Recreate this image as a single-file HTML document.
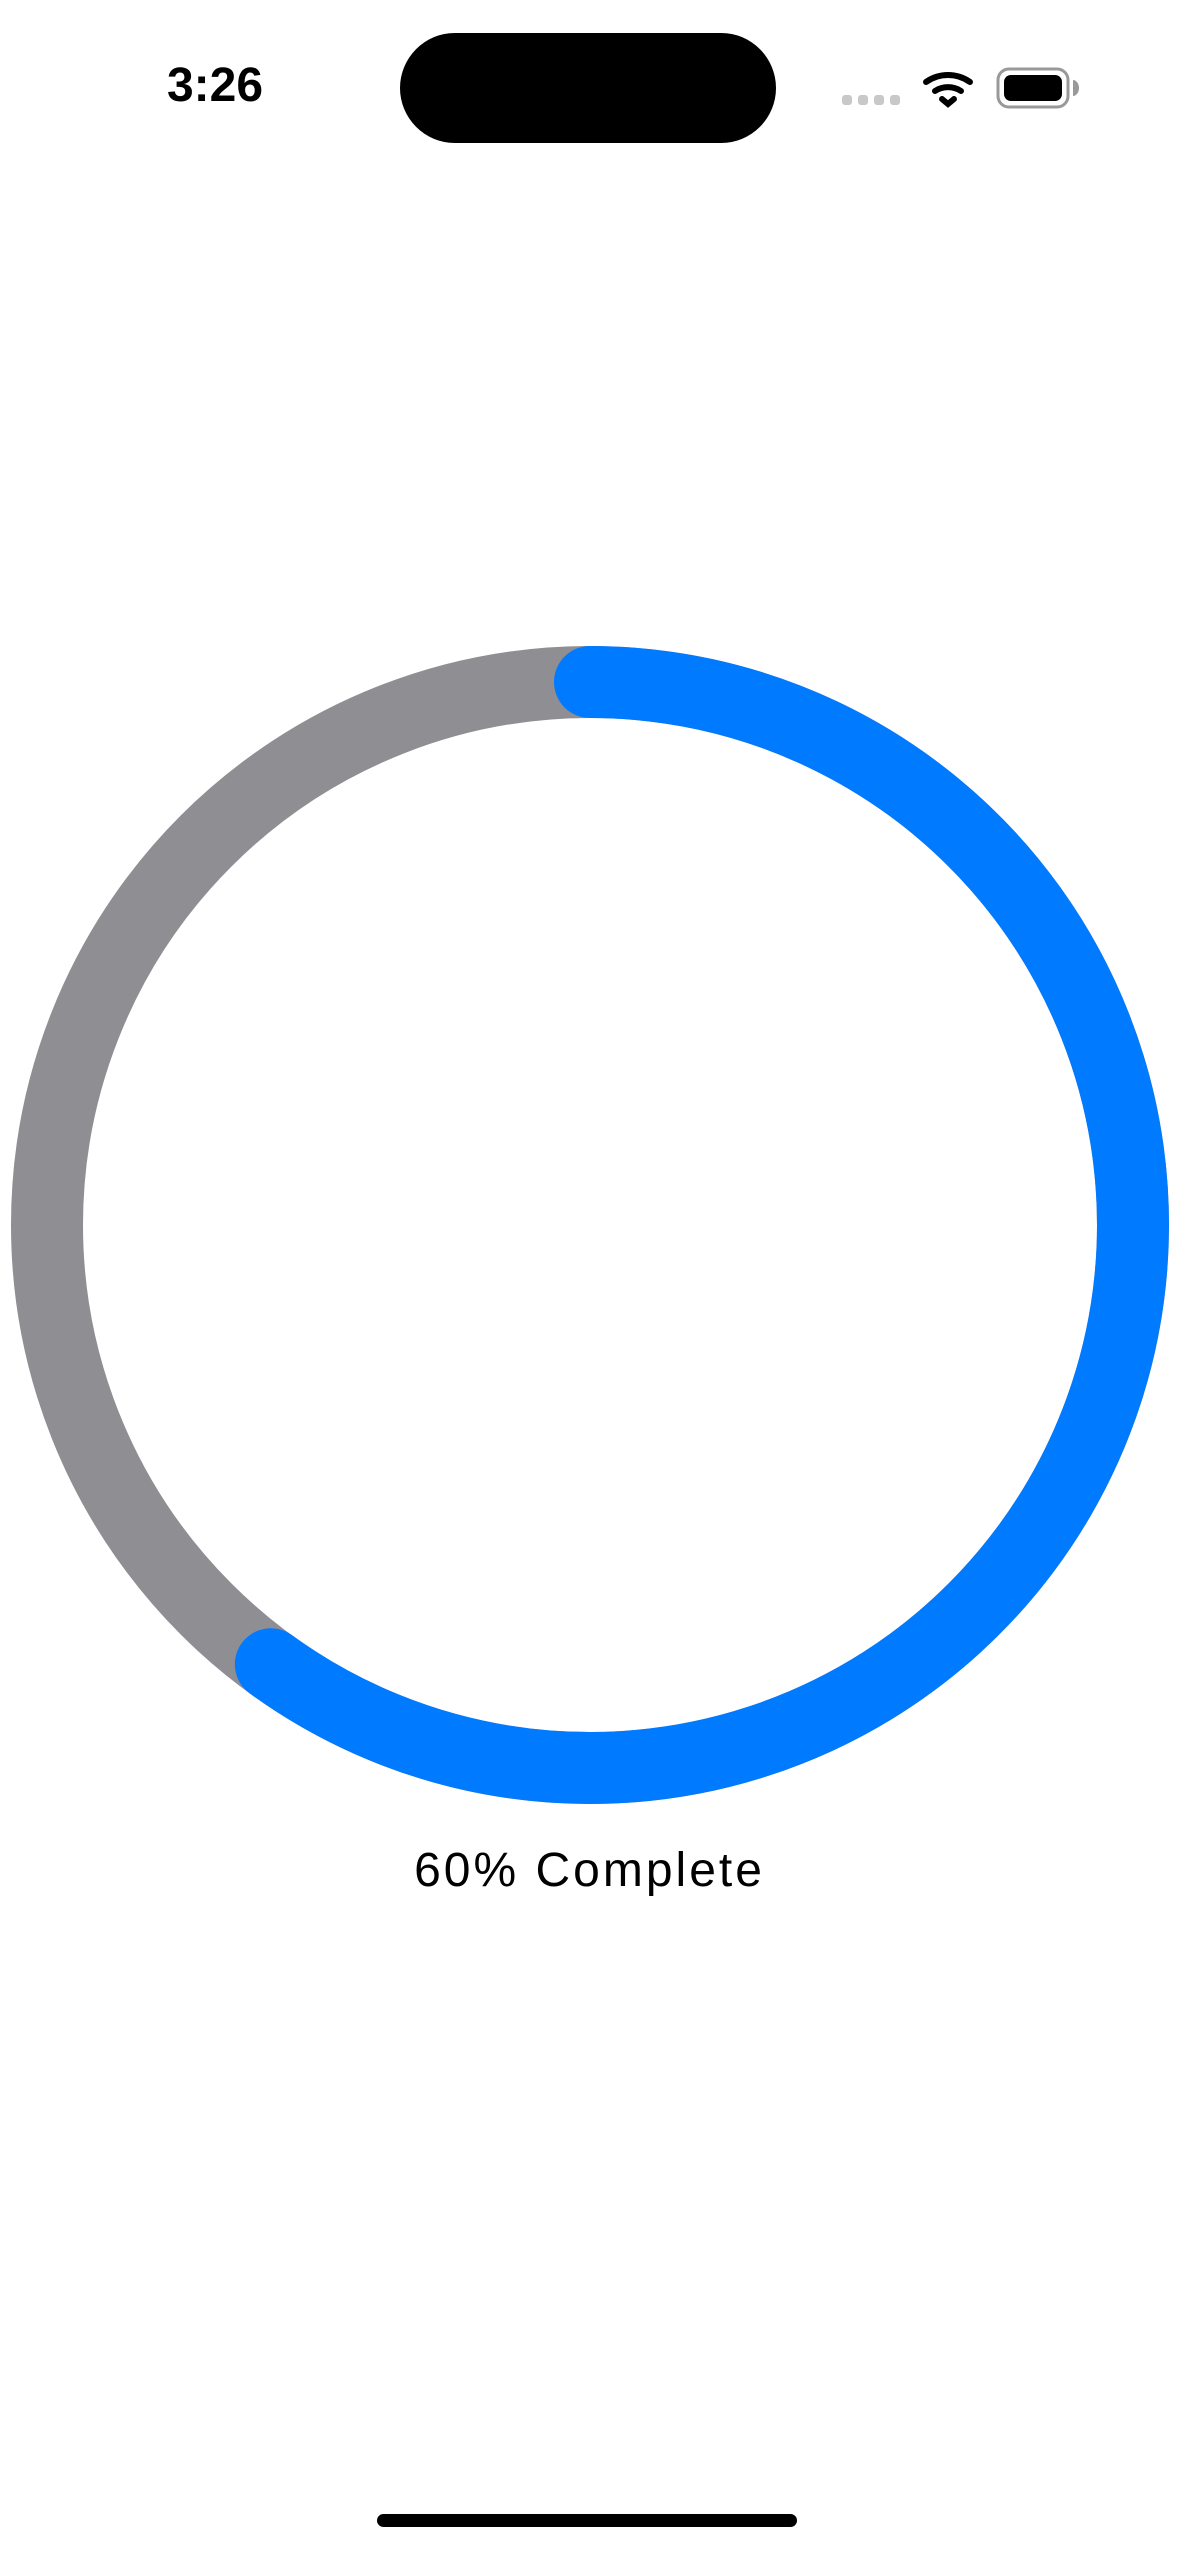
<!DOCTYPE html>
<html><head><meta charset="utf-8">
<style>
html,body{margin:0;padding:0;background:#fff;}
body{width:1179px;height:2556px;position:relative;overflow:hidden;font-family:"Liberation Sans",sans-serif;}
#time{position:absolute;left:140px;top:58px;width:150px;text-align:center;font-weight:bold;font-size:48px;color:#000;}
#island{position:absolute;left:400px;top:33px;width:376px;height:110px;border-radius:55px;background:#000;}
#label{position:absolute;left:0;width:1179px;top:1843px;text-align:center;font-size:48px;letter-spacing:3px;color:#000;}
#home{position:absolute;left:377px;top:2514px;width:420px;height:13px;border-radius:7px;background:#000;}
</style></head><body>
<div id="time">3:26</div>
<div id="island"></div>
<svg width="1179" height="200" style="position:absolute;left:0;top:0">
  <g fill="#c8c8c8">
    <rect x="842" y="95" width="10" height="10" rx="3"/><rect x="858" y="95" width="10" height="10" rx="3"/>
    <rect x="874" y="95" width="10" height="10" rx="3"/><rect x="890" y="95" width="10" height="10" rx="3"/>
  </g>
  <g fill="none" stroke="#000" stroke-width="6" stroke-linecap="round">
    <path d="M926 82 A38 38 0 0 1 970 82"/>
    <path d="M935 91 A24 24 0 0 1 961 91"/>
    <path d="M942 99 L948 104 L954 99"/>
  </g>
  <g>
    <rect x="998" y="69" width="70" height="38" rx="11" fill="none" stroke="#999" stroke-width="3"/>
    <rect x="1004" y="75" width="58" height="26" rx="7" fill="#000"/>
    <path d="M1073 80 A6 8 0 0 1 1073 96 Z" fill="#999"/>
  </g>
</svg>
<svg id="chart" width="1179" height="1900" style="position:absolute;left:0;top:0"></svg>
<div id="label">60% Complete</div>
<div id="home"></div>
<script>
const progressValues = [0.6];
const progressLabels = ["60% Complete"];
const ns="http://www.w3.org/2000/svg";
const svg=document.getElementById('chart');
const cx=590, cy=1225, r=543, sw=72;
function angleToPoint(frac){const a=frac*2*Math.PI;return [cx+r*Math.sin(a), cy-r*Math.cos(a)];}
const track=document.createElementNS(ns,'circle');


track.setAttribute('cx',cx);track.setAttribute('cy',cy);track.setAttribute('r',r);
track.setAttribute('fill','none');track.setAttribute('stroke','#8E8E93');track.setAttribute('stroke-width',sw);
svg.appendChild(track);
const v=progressValues[0];
const [x0,y0]=angleToPoint(0),[x1,y1]=angleToPoint(v);
const arc=document.createElementNS(ns,'path');


arc.setAttribute('d',`M${x0} ${y0} A${r} ${r} 0 ${v>0.5?1:0} 1 ${x1} ${y1}`);
arc.setAttribute('fill','none');arc.setAttribute('stroke','#007AFF');arc.setAttribute('stroke-width',sw);arc.setAttribute('stroke-linecap','round');
svg.appendChild(arc);
document.getElementById('label').textContent=progressLabels[0];
</script>
</body></html>
